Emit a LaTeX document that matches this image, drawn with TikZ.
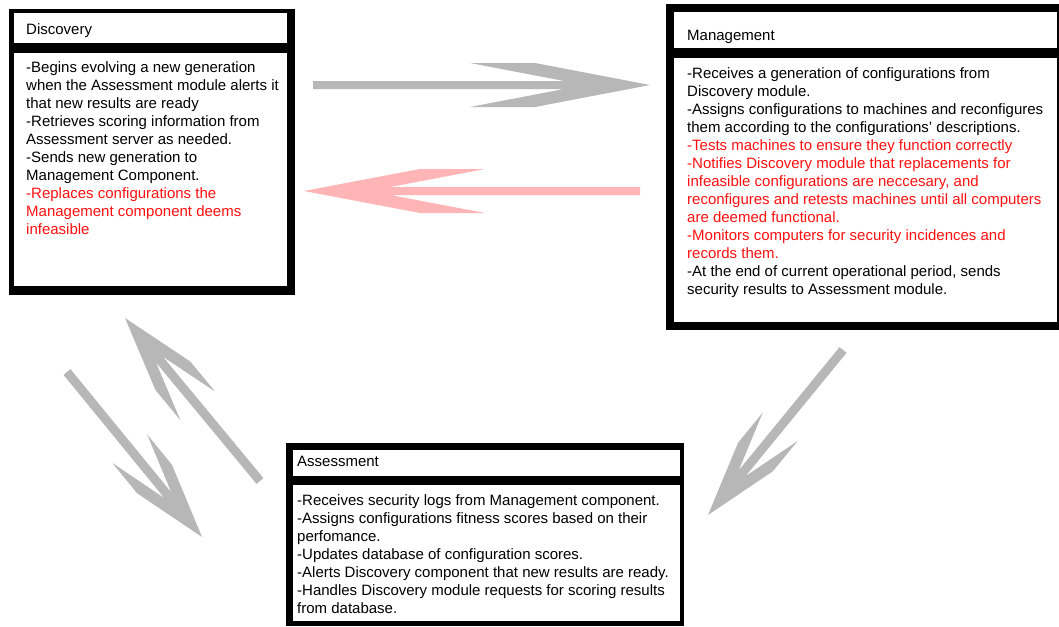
\documentclass[tikz,border=0pt]{standalone}
\usepackage{fontspec}
\setmainfont{Liberation Sans}
\usetikzlibrary{calc}
\definecolor{arrowgray}{HTML}{B7B7B7}
\definecolor{arrowpink}{HTML}{FFB5B5}
\definecolor{txtred}{HTML}{FF1010}
\newcommand{\rl}[1]{\textcolor{txtred}{#1}}
% tail, tip, shaft half width, near corner dist, far corner dist, head half width, colour
\newcommand{\chevarrow}[7]{%
  \pgfmathsetmacro{\notchd}{#5-(#6-#3)*#4/#6}%
  \fill[#7] (#2)
    -- ($(#2)!#4pt!(#1)!#6pt!90:(#2)$)
    -- ($(#2)!#5pt!(#1)!#6pt!90:(#2)$)
    -- ($(#2)!\notchd pt!(#1)!#3pt!90:(#2)$)
    -- ($(#1)!#3pt!90:(#2)$)
    -- ($(#1)!#3pt!-90:(#2)$)
    -- ($(#2)!\notchd pt!(#1)!#3pt!-90:(#2)$)
    -- ($(#2)!#5pt!(#1)!#6pt!-90:(#2)$)
    -- ($(#2)!#4pt!(#1)!#6pt!-90:(#2)$)
    -- cycle;}
\begin{document}
\begin{tikzpicture}[x=1pt,y=-1pt,
  boxtxt/.style={inner sep=0pt,anchor=north west,align=left,font=\fontsize{15}{18}\selectfont},
  titletxt/.style={inner sep=0pt,anchor=base west,font=\fontsize{15}{18}\selectfont}]
\useasboundingbox[fill=white] (0,0) rectangle (1059,626);

% ---------- Discovery ----------
\fill[black] (9,9) rectangle (295,295);
\fill[white] (14,13) rectangle (287,43);
\fill[white] (14,53) rectangle (287,286);
\node[titletxt] (disct) at (26,35) {Discovery};
\node[boxtxt] (discb) at (26,59.4) {\strut-Begins evolving a new generation\\
when the Assessment module alerts it\\
that new results are ready\\
-Retrieves scoring information from\\
Assessment server as needed.\\
-Sends new generation to\\
Management Component.\\
\rl{-Replaces configurations the}\\
\rl{Management component deems}\\
\rl{infeasible}};

% ---------- Management ----------
\fill[black] (666,4) rectangle (1059,330);
\fill[white] (674,12) rectangle (1057,48);
\fill[white] (674,58) rectangle (1057,322);
\node[titletxt] (mant) at (687,41) {Management};
\node[boxtxt] (manb) at (687,65.4) {\strut-Receives a generation of configurations from\\
Discovery module.\\
-Assigns configurations to machines and reconfigures\\
them according to the configurations’ descriptions.\\
\rl{-Tests machines to ensure they function correctly}\\
\rl{-Notifies Discovery module that replacements for}\\
\rl{infeasible configurations are neccesary, and}\\
\rl{reconfigures and retests machines until all computers}\\
\rl{are deemed functional.}\\
\rl{-Monitors computers for security incidences and}\\
\rl{records them.}\\
-At the end of current operational period, sends\\
security results to Assessment module.};

% ---------- Assessment ----------
\fill[black] (286,443) rectangle (684,626);
\fill[white] (293,450) rectangle (680,476);
\fill[white] (293,485) rectangle (680,621);
\node[titletxt] (asst) at (297,466) {Assessment};
\node[boxtxt] (assb) at (297,492.4) {\strut-Receives security logs from Management component.\\
-Assigns configurations fitness scores based on their\\
perfomance.\\
-Updates database of configuration scores.\\
-Alerts Discovery component that new results are ready.\\
-Handles Discovery module requests for scoring results\\
from database.};

% ---------- Arrows ----------
\coordinate (a1s) at (313,85);  \coordinate (a1e) at (650,85);
\coordinate (a2s) at (640,191); \coordinate (a2e) at (304,191);
\coordinate (a3s) at (843,350); \coordinate (a3e) at (708,515);
\coordinate (a4s) at (67,372);  \coordinate (a4e) at (202,537);
\coordinate (a5s) at (260,481); \coordinate (a5e) at (125,318);
\chevarrow{a1s}{a1e}{4}{115}{180}{22}{arrowgray}
\chevarrow{a2s}{a2e}{4}{116}{181}{22}{arrowpink}
\chevarrow{a3s}{a3e}{4.5}{75}{114}{22.5}{arrowgray}
\chevarrow{a4s}{a4e}{4.5}{75}{114}{22.5}{arrowgray}
\chevarrow{a5s}{a5e}{4.5}{75}{114}{22.5}{arrowgray}
\end{tikzpicture}
\end{document}
